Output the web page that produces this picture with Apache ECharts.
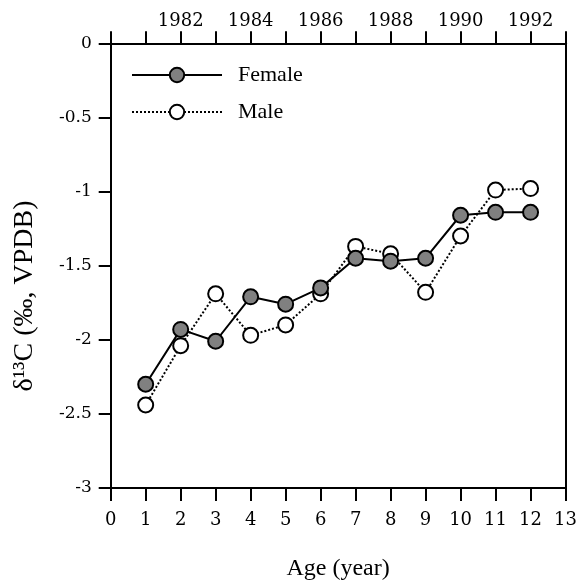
<!DOCTYPE html>
<html lang="en">
<head>
    <meta charset="UTF-8">
    <title>d13C by age</title>
    <script src="https://cdn.jsdelivr.net/npm/echarts@6/dist/echarts.min.js"></script>
    <style>
        html, body { margin: 0; padding: 0; background: #fff; }
    </style>
</head>
<body>
<div id="main" style="width: 580px; height: 586px;"></div>

<script type="text/javascript">

    // values
    const ages = [1, 2, 3, 4, 5, 6, 7, 8, 9, 10, 11, 12]
    const female = [-2.30, -1.93, -2.01, -1.71, -1.76, -1.65, -1.45, -1.47, -1.45, -1.16, -1.14, -1.14]
    const male = [-2.44, -2.04, -1.69, -1.97, -1.90, -1.69, -1.37, -1.42, -1.68, -1.30, -0.99, -0.98]
    const yearLabels = [1982, 1984, 1986, 1988, 1990, 1992]

    const serif = 'Liberation Serif'
    const tickFont = 'DejaVu Serif'

    let chart = echarts.init(document.getElementById('main'))

    chart.setOption({
        animation: false,
        grid: {
            left: 110.7,
            right: 14,
            top: 43.3,
            bottom: 89,
            containLabel: false
        },
        legend: {
            data: ['Female', 'Male'],
            orient: 'vertical',
            left: 126,
            top: 59,
            itemWidth: 90,
            itemHeight: 18,
            itemGap: 15,
            textStyle: {
                fontFamily: serif,
                fontSize: 22,
                color: '#000',
                padding: [0, 0, 0, 11]
            }
        },
        graphic: [{
            type: 'text',
            x: 25,
            y: 296,
            rotation: Math.PI / 2,
            style: {
                text: 'δ¹³C (‰, VPDB)',
                font: '28px "Liberation Serif"',
                fill: '#000',
                align: 'center',
                verticalAlign: 'middle'
            }
        }],
        xAxis: [{
            type: 'value',
            position: 'bottom',
            min: 0,
            max: 13,
            interval: 1,
            name: 'Age (year)',
            nameLocation: 'middle',
            nameGap: 69,
            nameTextStyle: { fontFamily: serif, fontSize: 24, color: '#000' },
            axisLine: { onZero: false, lineStyle: { color: '#000', width: 2 } },
            axisTick: { inside: false, length: 13, lineStyle: { color: '#000', width: 2 } },
            axisLabel: { margin: 23, fontFamily: tickFont, fontSize: 18, color: '#000' },
            splitLine: { show: false }
        }, {
            type: 'value',
            position: 'top',
            min: 1980,
            max: 1993,
            interval: 1,
            axisLine: { onZero: false, lineStyle: { color: '#000', width: 2 } },
            axisTick: { inside: false, length: 12, lineStyle: { color: '#000', width: 2 } },
            axisLabel: {
                margin: 13,
                fontFamily: tickFont,
                fontSize: 18,
                color: '#000',
                formatter: v => yearLabels.includes(v) ? String(v) : ''
            },
            splitLine: { show: false }
        }],
        yAxis: [{
            type: 'value',
            position: 'left',
            min: -3,
            max: 0,
            interval: 0.5,
            axisLine: { show: true, onZero: false, lineStyle: { color: '#000', width: 2 } },
            axisTick: { show: true, inside: false, length: 12, lineStyle: { color: '#000', width: 2 } },
            axisLabel: { margin: 19, fontFamily: tickFont, fontSize: 17, color: '#000' },
            splitLine: { show: false }
        }, {
            type: 'value',
            position: 'right',
            min: -3,
            max: 0,
            interval: 0.5,
            axisLine: { show: true, onZero: false, lineStyle: { color: '#000', width: 2 } },
            axisTick: { show: false },
            axisLabel: { show: false },
            splitLine: { show: false }
        }],
        series: [{
            name: 'Male',
            type: 'line',
            z: 2,
            data: ages.map((a, i) => [a, male[i]]),
            symbol: 'circle',
            symbolSize: 15,
            lineStyle: { color: '#000', width: 2, type: 'dotted' },
            itemStyle: { color: '#fff', borderColor: '#000', borderWidth: 2 }
        }, {
            name: 'Female',
            type: 'line',
            z: 3,
            data: ages.map((a, i) => [a, female[i]]),
            symbol: 'circle',
            symbolSize: 15,
            lineStyle: { color: '#000', width: 2 },
            itemStyle: { color: '#808080', borderColor: '#000', borderWidth: 2 }
        }]
    })

</script>
</body>
</html>
